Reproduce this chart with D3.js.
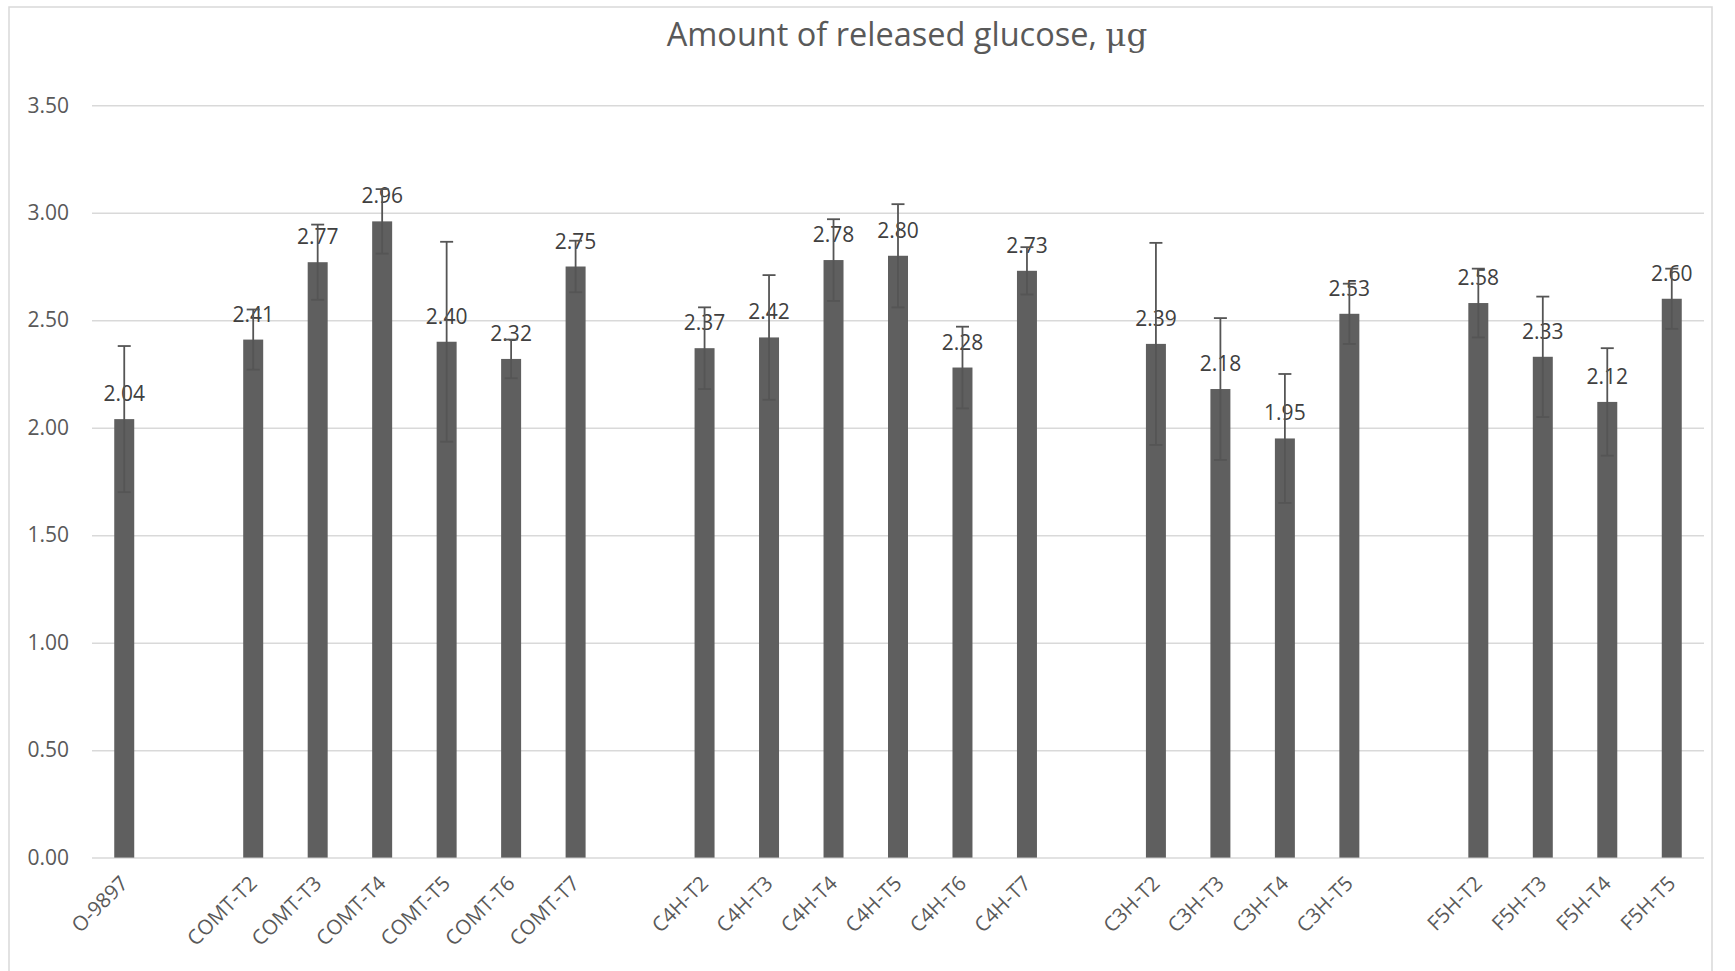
<!DOCTYPE html>
<html>
<head>
<meta charset="utf-8">
<script src="https://cdn.jsdelivr.net/npm/d3@7"></script>
<style>
  html, body { margin: 0; padding: 0; background: #fff; }
  svg { display: block; }
</style>
</head>
<body>
<svg id="chart" width="1735" height="971"></svg>
<script>
// ---- data ----
const categories = ["O-9897", null,
  "COMT-T2", "COMT-T3", "COMT-T4", "COMT-T5", "COMT-T6", "COMT-T7", null,
  "C4H-T2", "C4H-T3", "C4H-T4", "C4H-T5", "C4H-T6", "C4H-T7", null,
  "C3H-T2", "C3H-T3", "C3H-T4", "C3H-T5", null,
  "F5H-T2", "F5H-T3", "F5H-T4", "F5H-T5"];
const values = [2.04, null,
  2.41, 2.77, 2.96, 2.40, 2.32, 2.75, null,
  2.37, 2.42, 2.78, 2.80, 2.28, 2.73, null,
  2.39, 2.18, 1.95, 2.53, null,
  2.58, 2.33, 2.12, 2.60];
const errors = [0.34, null,
  0.14, 0.175, 0.15, 0.465, 0.09, 0.12, null,
  0.19, 0.29, 0.19, 0.24, 0.19, 0.11, null,
  0.47, 0.33, 0.30, 0.14, null,
  0.16, 0.28, 0.25, 0.14];
const yTicks = [0, 0.5, 1.0, 1.5, 2.0, 2.5, 3.0, 3.5];
const titleText = "Amount of released glucose, ";
const titleUnit = "μg";

// ---- layout ----
const svg = d3.select("#chart");
const pL = 92, pR = 1704, pT = 105.3, pB = 857.6;
const slots = categories.map((c, i) => c === null ? "gap" + i : c);
const rows = slots.map((s, i) => ({ key: s, name: categories[i], v: values[i], e: errors[i] }))
  .filter(d => d.name !== null);

const x = d3.scaleBand().domain(slots).range([pL, pR]).paddingInner(0.69).paddingOuter(0.345);
const y = d3.scaleLinear().domain([0, 3.5]).range([pB, pT]);

const font = "'Open Sans', 'Noto Sans', sans-serif";

// chart border
svg.append("rect").attr("x", 9).attr("y", 7).attr("width", 1703).attr("height", 990)
  .attr("fill", "none").attr("stroke", "#d9d9d9").attr("stroke-width", 1.5);

// title
const title = svg.append("text").attr("x", 907).attr("y", 46).attr("text-anchor", "middle")
  .attr("font-family", font).attr("font-size", 32.5).attr("fill", "#595959");
title.append("tspan").text(titleText);
title.append("tspan").attr("font-family", "'DejaVu Serif', 'Liberation Serif', serif").text(titleUnit);

// gridlines
const yAxis = d3.axisLeft(y).tickValues(yTicks).tickFormat(d3.format(".2f")).tickSize(-(pR - pL)).tickPadding(23);
const gy = svg.append("g").attr("transform", `translate(${pL},0)`).call(yAxis);
gy.select(".domain").remove();
gy.selectAll(".tick line").attr("stroke", "#d9d9d9").attr("stroke-width", 1.5);
gy.selectAll(".tick text").attr("font-family", font).attr("font-size", 21).attr("fill", "#595959");

// x axis labels
const xAxis = d3.axisBottom(x).tickValues(rows.map(d => d.key)).tickFormat((k) => categories[slots.indexOf(k)]).tickSize(0);
const gx = svg.append("g").attr("transform", `translate(0,${pB})`).call(xAxis);
gx.select(".domain").remove();
gx.selectAll(".tick text")
  .attr("font-family", font).attr("font-size", 20.5).attr("fill", "#595959")
  .attr("text-anchor", "end").attr("dy", 0).attr("y", 0)
  .attr("transform", "translate(5,27) rotate(-45)");

// bars
svg.append("g").selectAll("rect").data(rows).join("rect")
  .attr("x", d => x(d.key)).attr("width", x.bandwidth())
  .attr("y", d => y(d.v)).attr("height", d => y(0) - y(d.v))
  .attr("fill", "#5f5f5f");

// data labels
svg.append("g").selectAll("text").data(rows).join("text")
  .attr("x", d => x(d.key) + x.bandwidth() / 2).attr("y", d => y(d.v) - 18)
  .attr("text-anchor", "middle").attr("font-family", font).attr("font-size", 21)
  .attr("fill", "#404040").text(d => d3.format(".2f")(d.v));

// error bars
const eb = svg.append("g").attr("stroke", "#555555").attr("stroke-width", 1.8).attr("fill", "none");
const cap = 6.5;
rows.forEach(d => {
  const cx = x(d.key) + x.bandwidth() / 2;
  const y1 = y(d.v + d.e), y0 = y(d.v - d.e);
  eb.append("line").attr("x1", cx).attr("x2", cx).attr("y1", y1).attr("y2", y0);
  eb.append("line").attr("x1", cx - cap).attr("x2", cx + cap).attr("y1", y1).attr("y2", y1);
  eb.append("line").attr("x1", cx - cap).attr("x2", cx + cap).attr("y1", y0).attr("y2", y0);
});
</script>
</body>
</html>
